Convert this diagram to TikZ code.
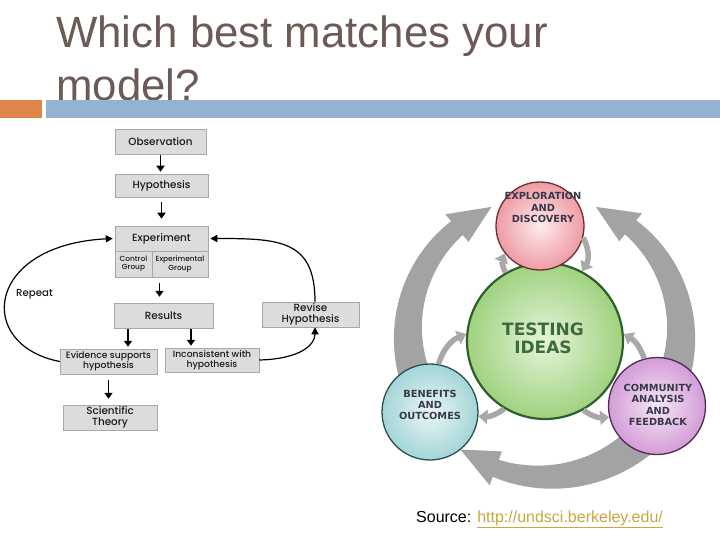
\documentclass[tikz,border=0pt]{standalone}
\usepackage{fontspec}
\setmainfont{Liberation Sans}
\newfontfamily\flowfont{Poppins Medium}
\newfontfamily\circfont{DejaVu Sans}
\usetikzlibrary{arrows.meta,calc}
\definecolor{titlec}{HTML}{6B5A55}
\definecolor{orangec}{HTML}{E0854A}
\definecolor{bluec}{HTML}{93B3D0}
\definecolor{boxfill}{HTML}{DCDCDC}
\definecolor{boxedge}{HTML}{A8A8A8}
\definecolor{flowtext}{HTML}{1A1A1A}
\definecolor{ringgray}{HTML}{A3A3A3}
\definecolor{smallgray}{HTML}{A8A8A8}
\definecolor{circtextc}{HTML}{38384A}
\definecolor{explin}{HTML}{FCEBEC}
\definecolor{explout}{HTML}{EE9CA2}
\definecolor{explb}{HTML}{6B2F33}
\definecolor{testin}{HTML}{E6F4DA}
\definecolor{testout}{HTML}{9FD27F}
\definecolor{testb}{HTML}{2E5E2E}
\definecolor{testtext}{HTML}{3E6B3B}
\definecolor{benin}{HTML}{EAF6F6}
\definecolor{benout}{HTML}{A3D5D7}
\definecolor{benb}{HTML}{2C4F50}
\definecolor{comin}{HTML}{F6E8F6}
\definecolor{comout}{HTML}{D39CD7}
\definecolor{comb}{HTML}{4F2A52}
\definecolor{linkc}{HTML}{C9A83C}
\def\Cx{545}\def\Cy{333}
\newcommand\ringarrow[7]{%
 \fill[ringgray]
 plot[domain=#1:#2,samples=50] ({\Cx+(#4+#5+(#6-#5)*(\x-(#1))/((#2)-(#1)))*cos(\x)},{\Cy+(#4+#5+(#6-#5)*(\x-(#1))/((#2)-(#1)))*sin(\x)})
 -- ({\Cx+(#4+#7)*cos(#2)},{\Cy+(#4+#7)*sin(#2)})
 -- ({\Cx+(#4)*cos(#3)},{\Cy+(#4)*sin(#3)})
 -- ({\Cx+(#4-#7)*cos(#2)},{\Cy+(#4-#7)*sin(#2)})
 -- plot[domain=#2:#1,samples=50] ({\Cx+(#4-#5-(#6-#5)*(\x-(#1))/((#2)-(#1)))*cos(\x)},{\Cy+(#4-#5-(#6-#5)*(\x-(#1))/((#2)-(#1)))*sin(\x)})
 -- cycle;}
\tikzset{
 fbox/.style={draw=boxedge, fill=boxfill, line width=0.5pt, inner sep=0pt, align=center,
   text=flowtext, font={\flowfont\fontsize{10.4}{11.2}\selectfont}},
 fsmall/.style={font={\flowfont\fontsize{7.4}{8.4}\selectfont}},
 fmid/.style={font={\flowfont\fontsize{9.2}{10}\selectfont}},
 farr/.style={line width=1.6pt, -{Triangle[length=6pt,width=8pt]}},
 carr/.style={line width=1.2pt, -{Triangle[length=7pt,width=7pt]}},
 smallarr/.style={draw=smallgray, line width=5.5pt, -{Triangle[length=9pt,width=14pt]}},
 circ/.style={circle, inner sep=0pt, line width=1.3pt},
 ctext/.style={align=center, inner sep=0pt, text=circtextc, font={\circfont\bfseries\fontsize{9.8}{11.4}\selectfont}},
}
\begin{document}
\begin{tikzpicture}[x=1pt,y=-1pt]
\useasboundingbox (0,0) rectangle (720,540);
\fill[white] (0,0) rectangle (720,540);
% title
\node[anchor=base west, inner sep=0pt, text=titlec, font={\fontsize{43.8}{52}\selectfont}] (t1) at (56,48) {Which best matches your};
\node[anchor=base west, inner sep=0pt, text=titlec, font={\fontsize{43.8}{52}\selectfont}] (t2) at (56,101) {model?};
\fill[orangec] (0,100) rectangle (42,118);
\fill[bluec] (46,100) rectangle (720,118);
% flowchart
\node[fbox, minimum width=91pt, minimum height=25pt] (obs) at (160.5,141.5) {Observation};
\node[fbox, minimum width=93pt, minimum height=23pt] (hyp) at (161.5,185.5) {Hypothesis};
\node[fbox, minimum width=93pt, minimum height=25pt] (exp) at (161.5,238.5) {Experiment};
\node[fbox, fsmall, minimum width=37pt, minimum height=26pt] (ctrl) at (133.5,264) {Control\\Group};
\node[fbox, fsmall, minimum width=56pt, minimum height=26pt] (expg) at (180,264) {Experimental\\Group};
\node[fbox, minimum width=99pt, minimum height=25pt] (res) at (163.5,315.5) {Results};
\node[fbox, fmid, minimum width=97pt, minimum height=25pt] (ev) at (108.5,361.5) {Evidence supports\\hypothesis};
\node[fbox, fmid, minimum width=94pt, minimum height=24pt] (inc) at (212,360) {Inconsistent with\\hypothesis};
\node[fbox, minimum width=97pt, minimum height=25pt] (rev) at (310.5,314.5) {Revise\\Hypothesis};
\node[fbox, minimum width=94pt, minimum height=25pt] (sci) at (110,417.5) {Scientific\\Theory};
\node[anchor=west, inner sep=0pt, text=flowtext, font={\flowfont\fontsize{10.2}{11}\selectfont}] (rep) at (16,294) {Repeat};
\draw[farr, shorten <=1pt, shorten >=2pt] (obs.south) -- (obs.south |- hyp.north);
\draw[farr, shorten <=5pt, shorten >=7pt] (hyp.south) -- (hyp.south |- exp.north);
\coordinate (r0) at ([xshift=-4pt]res.north);
\draw[farr, shorten <=6pt, shorten >=6pt] (r0 |- ctrl.south) -- (r0);
\coordinate (r1) at ([xshift=-35.5pt]res.south);
\coordinate (r2) at ([xshift=27.5pt]res.south);
\draw[farr, shorten <=1pt, shorten >=2pt] (r1) -- (r1 |- ev.north);
\draw[farr, shorten <=1pt, shorten >=2pt] (r2) -- (r2 |- inc.north);
\draw[farr, shorten <=6pt, shorten >=6pt] (ev.south) -- (ev.south |- sci.north);
\draw[carr] (ev.west) .. controls (-25,345) and (-15,245) .. ([xshift=-2pt]exp.west);
\draw[carr] (inc.east) .. controls (300,359) and (315,345) .. ([xshift=4.5pt]rev.south);
\draw[carr] ([xshift=4.5pt]rev.north) .. controls (315,240) and (280,238.5) .. ([xshift=2pt]exp.east);
% ring arrows
\ringarrow{150}{230}{247}{137}{17}{9}{18}
\ringarrow{30}{-51}{-68}{136}{17}{9}{18}
\ringarrow{40}{110}{126}{144}{18}{9}{18}
% circles
\node[circ, minimum size=156pt, draw=testb, line width=2.2pt, inner color=testin, outer color=testout] (test) at (545,341) {};
\node[circ, minimum size=88pt, draw=explb, inner color=explin, outer color=explout] (expl) at (540,226) {};
\node[circ, minimum size=96pt, draw=benb, inner color=benin, outer color=benout] (ben) at (430,412) {};
\node[circ, minimum size=97pt, draw=comb, inner color=comin, outer color=comout] (com) at (657,406) {};
% small arrows
\draw[smallarr] (test.120) to[bend left=25] (expl.218);
\draw[smallarr] (expl.-15) to[bend left=30] (test.62);
\draw[smallarr] (ben.80) to[bend left=25] (test.175);
\draw[smallarr] (test.239) to[bend left=20] (ben.-5);
\draw[smallarr] (com.105) to[bend right=20] (test.5);
\draw[smallarr] (test.-61) to[bend right=20] (com.193);
% circle texts
\node[ctext] (explt) at (543,207.5) {EXPLORATION\\AND\\DISCOVERY};
\node[ctext, text=testtext, font={\circfont\bfseries\fontsize{17}{17.5}\selectfont}] (testt) at (543,338.5) {TESTING\\IDEAS};
\node[ctext] (bent) at (430,405) {BENEFITS\\AND\\OUTCOMES};
\node[ctext] (comt) at (658,405) {COMMUNITY\\ANALYSIS\\AND\\FEEDBACK};
% source
\node[anchor=base west, inner sep=0pt, font={\fontsize{16}{18}\selectfont}] (src) at (416,522) {Source: \textcolor{linkc}{\underline{http://undsci.berkeley.edu/}}};
\end{tikzpicture}
\end{document}
